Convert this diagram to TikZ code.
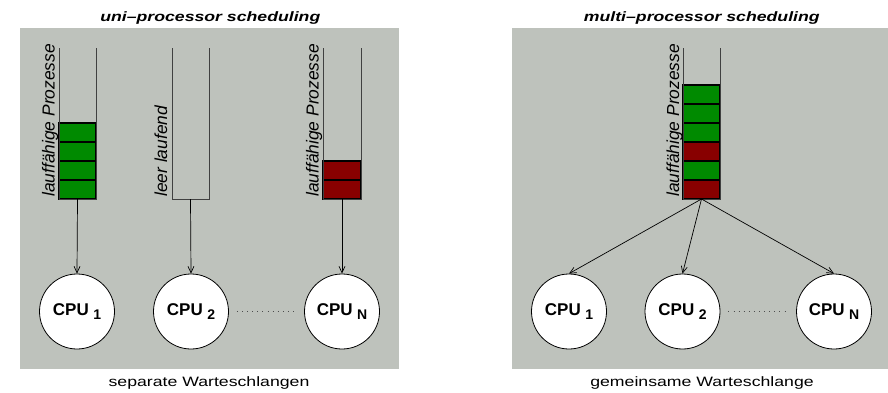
\documentclass[tikz,border=0pt]{standalone}
\usepackage{fontspec}
\setmainfont{Liberation Sans}
\newfontfamily\widefont[FakeStretch=1.3]{Liberation Sans}
\usetikzlibrary{arrows.meta}
\definecolor{panel}{RGB}{190,194,188}
\definecolor{qgreen}{RGB}{0,138,0}
\definecolor{qred}{RGB}{136,0,0}
\newcommand{\cpulabel}[1]{CPU\hspace{4.5pt}\raisebox{-4pt}{\fontsize{14}{14}\selectfont\bfseries #1}}
\begin{document}
\begin{tikzpicture}[x=1pt,y=-1pt,
  wall/.style={draw=black!75, line width=0.9pt},
  greenslot/.style={draw=black, line width=1.1pt, fill=qgreen},
  redslot/.style={draw=black, line width=1.1pt, fill=qred},
  cpu/.style={circle, draw, fill=white, minimum size=75pt, inner sep=0pt, line width=0.8pt, font=\fontsize{17}{17}\selectfont\bfseries},
  feed/.style={draw, line width=0.7pt, -{Straight Barb[length=6.5pt,width=6pt]}},
  qlabel/.style={rotate=90, anchor=base west, font=\fontsize{17.4}{18}\selectfont\itshape, inner sep=0pt},
  title/.style={font=\widefont\fontsize{13.6}{14}\selectfont\bfseries\itshape, anchor=base, inner sep=0pt},
  caption/.style={font=\widefont\fontsize{13.6}{14}\selectfont, anchor=base, inner sep=0pt},
  dots/.style={draw=black!70, line width=0.8pt, dash pattern=on 0.8pt off 4.3pt, shorten <=8pt, shorten >=8pt}
]
\useasboundingbox (0,0) rectangle (888,392);
\fill[panel] (20,28) rectangle (399,369);
\fill[panel] (512,28) rectangle (888,369);

% titles and captions
\node[title] (t1) at (210.3,21) {uni–processor scheduling};
\node[title] (t2) at (701.8,21) {multi–processor scheduling};
\node[caption] (k1) at (209,386.5) {separate Warteschlangen};
\node[caption] (k2) at (702,386.5) {gemeinsame Warteschlange};

% queue 1
\foreach \i in {0,...,3} {\draw[greenslot] (59,123+19*\i) rectangle (96,142+19*\i);}
\draw[wall] (59,48) -- (59,199) -- (96,199) -- (96,48);
\node[qlabel] (l1) at (54.5,197) {lauffähige Prozesse};
\coordinate (q1) at (77.5,199);

% queue 2
\draw[wall] (172,48) -- (172,199) -- (209,199) -- (209,48);
\node[qlabel] (l2) at (167,197) {leer laufend};
\coordinate (q2) at (190.5,199);

% queue 3
\foreach \i in {0,1} {\draw[redslot] (323,161+19*\i) rectangle (361,180+19*\i);}
\draw[wall] (323,48) -- (323,199) -- (361,199) -- (361,48);
\node[qlabel] (l3) at (318.5,197) {lauffähige Prozesse};
\coordinate (q3) at (342,199);

% CPUs left
\node[cpu] (c1) at (77,311.5) {\cpulabel{1}};
\node[cpu] (c2) at (191,311.5) {\cpulabel{2}};
\node[cpu] (c3) at (342,311.5) {\cpulabel{N}};
\draw[feed] (q1) -- (c1.north);
\draw[feed] (q2) -- (c2.north);
\draw[feed] (q3) -- (c3.north);
\draw[dots] (c2.east) -- (c3.west);

% shared queue
\draw[greenslot] (683,85) rectangle (720,104);
\draw[greenslot] (683,104) rectangle (720,123);
\draw[greenslot] (683,123) rectangle (720,142);
\draw[redslot] (683,142) rectangle (720,161);
\draw[greenslot] (683,161) rectangle (720,180);
\draw[redslot] (683,180) rectangle (720,199);
\draw[wall] (683,48) -- (683,199) -- (720,199) -- (720,48);
\node[qlabel] (l4) at (679,197) {lauffähige Prozesse};
\coordinate (q4) at (701.5,199);

% CPUs right
\node[cpu] (m1) at (569,311.5) {\cpulabel{1}};
\node[cpu] (m2) at (682.5,311.5) {\cpulabel{2}};
\node[cpu] (m3) at (834,311.5) {\cpulabel{N}};
\draw[feed] (q4) -- (m1.north);
\draw[feed] (q4) -- (m2.north);
\draw[feed] (q4) -- (m3.north);
\draw[dots] (m2.east) -- (m3.west);
\end{tikzpicture}
\end{document}
